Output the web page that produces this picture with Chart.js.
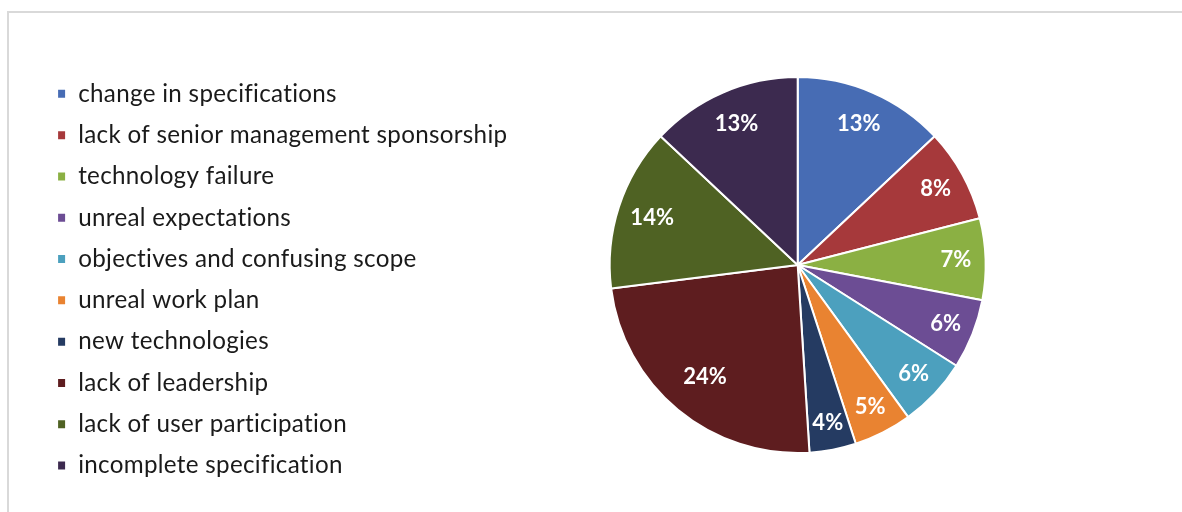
<!DOCTYPE html>
<html>
<head>
<meta charset="utf-8">
<script src="https://cdn.jsdelivr.net/npm/chart.js@4/dist/chart.umd.min.js"></script>
<style>
    html, body { margin: 0; padding: 0; background: #fff; }
    #wrap { position: relative; width: 1182px; height: 512px; overflow: hidden; }
    #frame { position: absolute; left: 7px; top: 11px; width: 1300px; height: 600px; border: 2px solid #d9d9d9; box-sizing: border-box; }
    #chart { position: absolute; left: 0; top: 0; }
</style>
</head>
<body>
<div id="wrap">
    <div id="frame"></div>
    <canvas id="chart" width="1182" height="512"></canvas>
</div>
<script>
const causes = [
    'change in specifications',
    'lack of senior management sponsorship',
    'technology failure',
    'unreal expectations',
    'objectives and confusing scope',
    'unreal work plan',
    'new technologies',
    'lack of leadership',
    'lack of user participation',
    'incomplete specification'
];
const shares = [13, 8, 7, 6, 6, 5, 4, 24, 14, 13];
const sliceColors = [
    '#476cb4', '#a6393b', '#8bb043', '#6c4d94', '#4ca0be',
    '#e98331', '#253b62', '#5e1d1f', '#4f6223', '#3c2a4f'
];

// a little letter spacing, which also keeps "ti"/"fi" from ligating
const textSpacing = {
    id: 'textSpacing',
    beforeUpdate(chart) { chart.ctx.letterSpacing = '0.3px'; },
    beforeDraw(chart) { chart.ctx.letterSpacing = '0.3px'; }
};

// draw the percentage text inside each slice
const sliceLabels = {
    id: 'sliceLabels',
    afterDatasetsDraw(chart) {
        const ctx = chart.ctx;
        const meta = chart.getDatasetMeta(0);
        const total = shares.reduce((a, b) => a + b, 0);
        ctx.save();
        ctx.letterSpacing = '0px';
        ctx.font = 'bold 22px Lato';
        ctx.fillStyle = '#ffffff';
        ctx.textAlign = 'center';
        ctx.textBaseline = 'middle';
        meta.data.forEach((arc, i) => {
            const p = arc.getProps(['x', 'y', 'startAngle', 'endAngle', 'outerRadius']);
            const mid = (p.startAngle + p.endAngle) / 2;
            // thin slices push their label further out
            const r = p.outerRadius * (0.87 - 0.004 * shares[i]);
            const pct = Math.round(shares[i] / total * 100) + '%';
            ctx.fillText(pct, p.x + Math.cos(mid) * r, p.y + Math.sin(mid) * r);
        });
        ctx.restore();
    }
};

new Chart(document.getElementById('chart'), {
    type: 'pie',
    data: {
        labels: causes,
        datasets: [{
            data: shares,
            backgroundColor: sliceColors,
            borderColor: '#ffffff',
            borderWidth: 2,
            radius: 188
        }]
    },
    options: {
        responsive: false,
        animation: false,
        layout: {
            padding: { left: 40, top: 30, bottom: 12, right: 104 }
        },
        plugins: {
            tooltip: { enabled: false },
            legend: {
                position: 'left',
                align: 'center',
                // empty title only used as a spacer above the items
                title: {
                    display: true,
                    text: ' ',
                    font: { size: 10 },
                    padding: { top: 0, bottom: 17.4 }
                },
                labels: {
                    boxWidth: 9,
                    boxHeight: 10,
                    padding: 17.1,
                    color: '#1a1a1a',
                    font: { family: 'Lato', size: 24.2 }
                }
            }
        }
    },
    plugins: [textSpacing, sliceLabels]
});
</script>
</body>
</html>
